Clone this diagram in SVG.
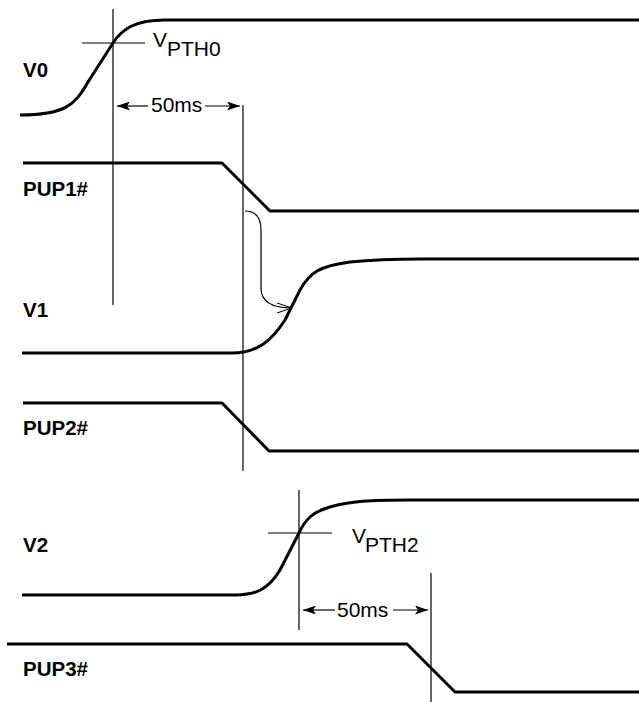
<svg xmlns="http://www.w3.org/2000/svg" width="639" height="702" viewBox="0 0 639 702">
<style>
.sig{fill:none;stroke:#000;stroke-width:3;stroke-linejoin:round}
.thin{fill:none;stroke:#000;stroke-width:1.2}
.lbl{font-family:"Liberation Sans",Arial,sans-serif;font-weight:bold;font-size:20.5px;fill:#000}
.txt{font-family:"Liberation Sans",Arial,sans-serif;font-size:21px;fill:#000}
</style>
<defs>
<marker id="ah" markerWidth="13" markerHeight="9" refX="13" refY="4.5" orient="auto" markerUnits="userSpaceOnUse">
<path d="M0,0 L13,4.5 L0,9 L3,4.5 Z" fill="#000"/>
</marker>
<marker id="oh" markerWidth="16" markerHeight="12" refX="15" refY="6" orient="auto" markerUnits="userSpaceOnUse">
<path d="M0,1 L15,6 L0,11" fill="none" stroke="#000" stroke-width="1"/>
</marker>
</defs>
<rect width="639" height="702" fill="#fff"/>
<g id="V0">
<path class="sig" d="M20,115 C65,115 75,105 88,82 L113,43 C122,29 135,20 165,20 L639,20"/>
<text class="lbl" x="23" y="77">V0</text>
</g>
<g id="PUP1">
<path class="sig" d="M23,163 L222,163 L270,211 L639,211"/>
<text class="lbl" x="23" y="196">PUP1#</text>
</g>
<g id="V1">
<path class="sig" d="M22,353 L232,353 C258,353 272,340 285,320 L300,290 C310,272 320,266 350,262 C380,259 400,259 420,259 L639,259"/>
<text class="lbl" x="23" y="317">V1</text>
</g>
<g id="PUP2">
<path class="sig" d="M23,403 L222,403 L269,451 L639,451"/>
<text class="lbl" x="23" y="435">PUP2#</text>
</g>
<g id="V2">
<path class="sig" d="M22,595 L235,595 C255,595 268,590 280,570 L299,533 C305,520 312,512 330,507 C350,501 370,500 410,500 L639,500"/>
<text class="lbl" x="23" y="552">V2</text>
</g>
<g id="PUP3">
<path class="sig" d="M7,644 L407,644 L455,692 L639,692"/>
<text class="lbl" x="23" y="676">PUP3#</text>
</g>
<g id="VPTH0">
<text class="txt" x="153" y="47">V</text>
<text class="txt" x="167" y="56">PTH0</text>
</g>
<g id="VPTH2">
<text class="txt" x="352" y="543">V</text>
<text class="txt" x="365" y="552">PTH2</text>
</g>
<g id="connectors">
<line class="thin" x1="113" y1="9" x2="113" y2="305"/>
<line class="thin" x1="82" y1="43" x2="145" y2="43"/>
<line class="thin" x1="243" y1="105" x2="243" y2="471"/>
<line class="thin" x1="148" y1="106" x2="117" y2="106" marker-end="url(#ah)"/>
<line class="thin" x1="205" y1="106" x2="240" y2="106" marker-end="url(#ah)"/>
<text class="txt" x="151" y="112">50ms</text>
<path class="thin" d="M245,211 C256,211 261,218 261,230 L261,288 C261,300 270,308 292,308" marker-end="url(#oh)"/>
<line class="thin" x1="299" y1="490" x2="299" y2="630"/>
<line class="thin" x1="268" y1="533" x2="332" y2="533"/>
<line class="thin" x1="431" y1="573" x2="431" y2="702"/>
<line class="thin" x1="335" y1="610" x2="303" y2="610" marker-end="url(#ah)"/>
<line class="thin" x1="393" y1="610" x2="428" y2="610" marker-end="url(#ah)"/>
<text class="txt" x="337" y="617">50ms</text>
</g>
</svg>
